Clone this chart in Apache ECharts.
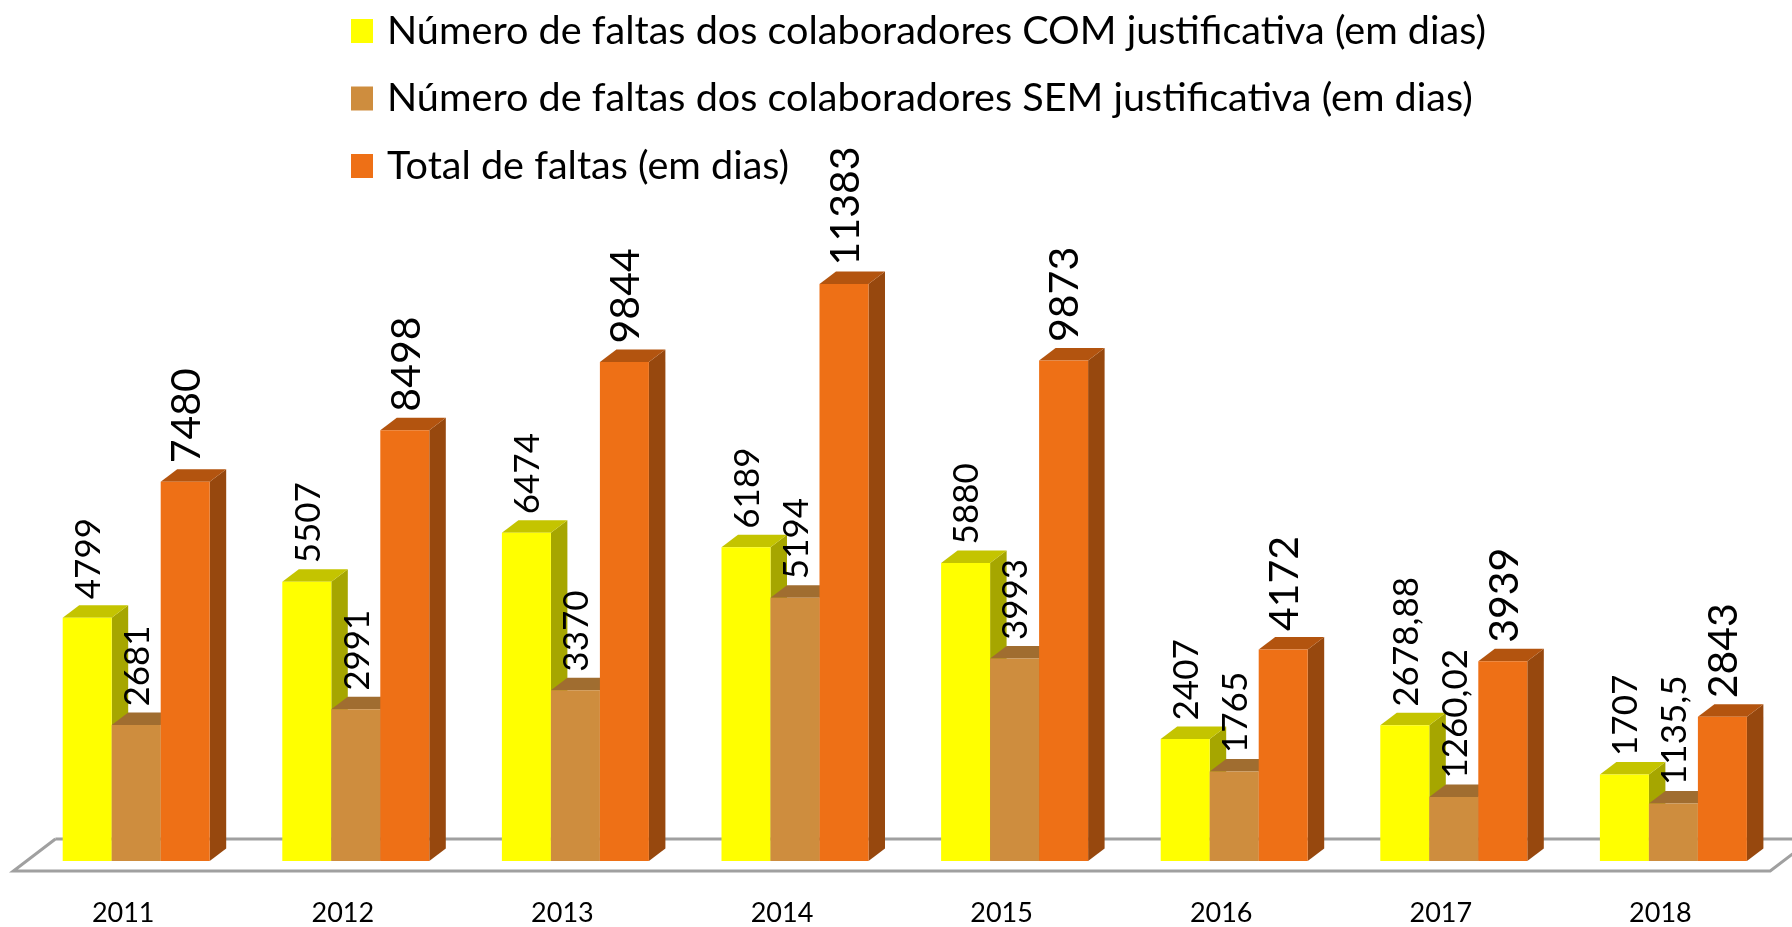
<!DOCTYPE html>
<html>
<head>
<meta charset="utf-8">
<title>Faltas dos colaboradores</title>
<style>
    html, body { margin: 0; padding: 0; background: #fff; }
    #chart { width: 1792px; height: 927px; }
</style>
<script src="https://cdn.jsdelivr.net/npm/echarts@6/dist/echarts.min.js"></script>
</head>
<body>
<div id="chart"></div>
<script>
const years = ["2011", "2012", "2013", "2014", "2015", "2016", "2017", "2018"];
const com_justificativa = [4799, 5507, 6474, 6189, 5880, 2407, 2678.88, 1707];
const sem_justificativa = [2681, 2991, 3370, 5194, 3993, 1765, 1260.02, 1135.5];
const total_faltas = [7480, 8498, 9844, 11383, 9873, 4172, 3939, 2843];

const FONT = "Lato, sans-serif";
const BAR_RATIO = 49 / 219.6; // one bar against the category band
const DEPTH_X = 16.5; // fake 3d depth
const DEPTH_Y = 12.5;

// number label in pt-BR style, 2678.88 -> 2678,88
const fmt = (v) => String(v).replace(".", ",");

// one cuboid per value: front, side, top and the rotated label
function cuboid(slot, colors, label_size) {
    return (params, api) => {
        const band = api.size([1, 0])[0];
        const w = band * BAR_RATIO;
        const value = api.value(1);
        const [cx, top] = api.coord([api.value(0), value]);
        const [, base] = api.coord([api.value(0), 0]);
        const x0 = cx - w * 1.5 + slot * w;
        const x1 = x0 + w;
        return {
            type: "group",
            children: [
                {
                    type: "polygon",
                    shape: { points: [[x1, top], [x1 + DEPTH_X, top - DEPTH_Y], [x1 + DEPTH_X, base - DEPTH_Y], [x1, base]] },
                    style: { fill: colors.side },
                },
                {
                    type: "polygon",
                    shape: { points: [[x0, top], [x0 + DEPTH_X, top - DEPTH_Y], [x1 + DEPTH_X, top - DEPTH_Y], [x1, top]] },
                    style: { fill: colors.top },
                },
                {
                    type: "rect",
                    shape: { x: x0, y: top, width: w, height: base - top },
                    style: { fill: colors.front },
                },
                {
                    type: "text",
                    x: x0 + w / 2 + 1.5,
                    y: top - DEPTH_Y - 6,
                    rotation: Math.PI / 2,
                    style: {
                        text: fmt(value),
                        align: "left",
                        verticalAlign: "middle",
                        fontFamily: FONT,
                        fontSize: label_size,
                        fill: "#000",
                    },
                },
            ],
        };
    };
}

function bar_series(name, values, slot, colors, label_size) {
    return {
        name,
        type: "custom",
        z: 3,
        silent: true,
        itemStyle: { color: colors.front },
        encode: { x: 0, y: 1 },
        data: values.map((v, i) => [i, v]),
        renderItem: cuboid(slot, colors, label_size),
    };
}

// floor plane drawn off the grid rect
function floor_item(params, api) {
    const rect = params.coordSys;
    const base = rect.y + rect.height;
    const left = rect.x - 13;
    const right = rect.x + rect.width - 13;
    return {
        type: "polyline",
        shape: {
            points: [
                [left + 42, base - 22],
                [right + 42, base - 22],
                [right, base + 10],
                [left, base + 10],
                [left + 42, base - 22],
            ],
        },
        style: { fill: null, stroke: "#a0a0a0", lineWidth: 3 },
    };
}

const chart = echarts.init(document.getElementById("chart"), null, { renderer: "canvas" });

chart.setOption({
    animation: false,
    backgroundColor: "#fff",
    grid: { left: 26.4, width: 1756.8, top: 252.6, bottom: 66 },
    legend: {
        orient: "vertical",
        left: 351,
        top: 11,
        padding: 0,
        icon: "rect",
        itemWidth: 22,
        itemHeight: 24,
        itemGap: 27.5,
        selectedMode: false,
        data: [
            "Número de faltas dos colaboradores COM justificativa (em dias)",
            "Número de faltas dos colaboradores SEM justificativa (em dias)",
            "Total de faltas (em dias)",
        ],
        textStyle: { fontFamily: FONT, fontSize: 39.6, color: "#000", lineHeight: 24, padding: [0, 0, 0, 9] },
    },
    xAxis: {
        type: "category",
        data: years,
        axisLine: { show: false },
        axisTick: { show: false },
        axisLabel: {
            interval: 0,
            margin: 39,
            padding: [0, 26, 0, 0], // ticks sit left of the bars
            fontFamily: FONT,
            fontSize: 27,
            color: "#000",
        },
    },
    yAxis: { type: "value", min: 0, max: 12000, show: false },
    series: [
        {
            type: "custom",
            z: 1,
            silent: true,
            data: [[0, 0]],
            encode: { x: 0, y: 1 },
            renderItem: floor_item,
        },
        bar_series("Número de faltas dos colaboradores COM justificativa (em dias)", com_justificativa, 0,
            { front: "#ffff00", side: "#a6a600", top: "#c4c400" }, 35),
        bar_series("Número de faltas dos colaboradores SEM justificativa (em dias)", sem_justificativa, 1,
            { front: "#ce8d3e", side: "#96662c", top: "#a06d30" }, 35),
        bar_series("Total de faltas (em dias)", total_faltas, 2,
            { front: "#ee7016", side: "#97480e", top: "#b3540f" }, 41),
    ],
});
</script>
</body>
</html>
